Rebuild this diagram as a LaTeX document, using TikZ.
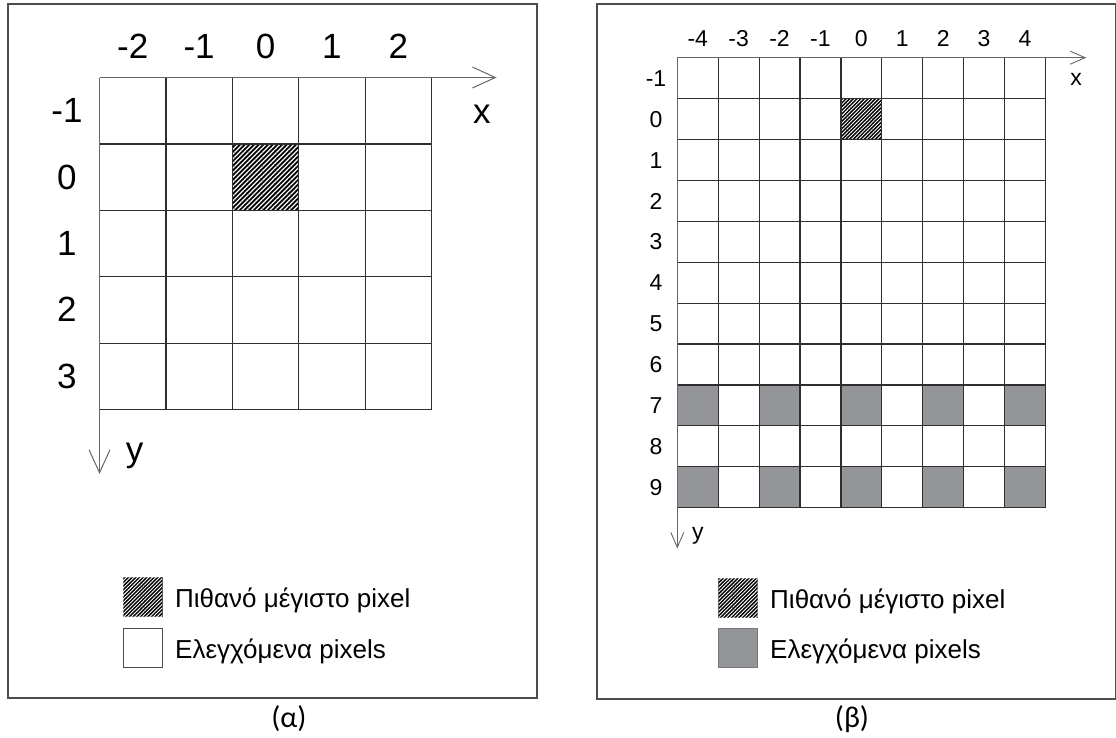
\documentclass[tikz,border=0pt]{standalone}
\usepackage{fontspec}
\setmainfont{Liberation Sans}
\newfontfamily\capfont{Carlito}
\usetikzlibrary{arrows.meta,patterns.meta}
\definecolor{gridline}{HTML}{2E2E2E}
\definecolor{axisgray}{HTML}{666666}
\definecolor{framegray}{HTML}{4D4D4D}
\definecolor{checkgray}{HTML}{939598}

\begin{document}
\begin{tikzpicture}[x=1pt, y=-1pt,
    frame/.style={draw=framegray, line width=1.3pt},
    cell/.style={draw=gridline, line width=1.2pt},
    hatchbig/.style={fill=black, postaction={pattern={Lines[angle=45,distance=3.3pt,line width=1.2pt]}, pattern color=white}},
    hatchsmall/.style={fill=black, postaction={pattern={Lines[angle=45,distance=2.6pt,line width=0.9pt]}, pattern color=white}},
    checked/.style={fill=checkgray},
    swatch/.style={rectangle, minimum width=39pt, minimum height=39pt, inner sep=0pt, draw=framegray, line width=0.9pt},
    bignum/.style={inner sep=0pt, anchor=base, font=\fontsize{35}{35}\selectfont},
    smallnum/.style={inner sep=0pt, anchor=base, font=\fontsize{23}{23}\selectfont},
    keytext/.style={inner sep=0pt, anchor=base west, font=\fontsize{26}{26}\selectfont},
    caption/.style={inner sep=0pt, font=\capfont\fontsize{30}{30}\selectfont}
  ]
    \useasboundingbox (0,0) rectangle (1116,737);

    % panel (a)
    \draw[frame] (8,4) rectangle (537,698);
    \begin{scope}[shift={(99.5,77.5)}, x=66.4pt, y=-66.4pt]
      \fill[hatchbig] (2,1) rectangle (3,2);
      \foreach \i in {0,...,5}
        \draw[cell] (\i,0) -- (\i,5);
      \foreach \j in {0,...,5}
        \draw[cell] (0,\j) -- (5,\j);
      \coordinate (oa) at (0,0);
      \coordinate (xa) at (5.98,0);
      \coordinate (ya) at (0,5.97);
      \draw[axisgray, line width=1pt, -{Straight Barb[length=23pt,width=21pt]}] (oa) -- (xa);
      \draw[axisgray, line width=1pt, -{Straight Barb[length=23pt,width=21pt]}] (oa) -- (ya);
      \foreach \v [count=\i from 0] in {-2,-1,0,1,2}
        \node[bignum] (colA\i) at (\i+0.5,-0.28) {\v};
      \foreach \v [count=\j from 0] in {-1,0,1,2,3}
        \node[bignum] (rowA\j) at (-0.49,\j+0.68) {\v};
      \node[bignum] (xlabA) at (5.76,0.7) {x};
      \node[bignum] (ylabA) at (0.53,5.78) {y};
    \end{scope}
    \node[swatch, hatchsmall] (keyA1) at (142.5,597) {};
    \node[swatch, fill=white] (keyA2) at (142.5,647.5) {};
    \node[keytext] (txtA1) at (175,607) {Πιθανό μέγιστο pixel};
    \node[keytext] (txtA2) at (175,658) {Ελεγχόμενα pixels};
    \node[caption] (capA) at (289,719) {(α)};

    % panel (b)
    \draw[frame] (597,4) rectangle (1115.4,699);
    \begin{scope}[shift={(677.3,57.7)}, x=40.9pt, y=-40.9pt]
      \fill[hatchsmall] (4,1) rectangle (5,2);
      \foreach \r in {8,10}
        \foreach \c in {0,2,4,6,8}
          \fill[checked] (\c,\r) rectangle (\c+1,\r+1);
      \foreach \i in {0,...,9}
        \draw[cell] (\i,0) -- (\i,11);
      \foreach \j in {0,...,11}
        \draw[cell] (0,\j) -- (9,\j);
      \coordinate (ob) at (0,0);
      \coordinate (xb) at (10,0);
      \coordinate (yb) at (0,12);
      \draw[axisgray, line width=0.9pt, -{Straight Barb[length=15pt,width=13pt]}] (ob) -- (xb);
      \draw[axisgray, line width=0.9pt, -{Straight Barb[length=15pt,width=13pt]}] (ob) -- (yb);
      \foreach \v [count=\i from 0] in {-4,-3,-2,-1,0,1,2,3,4}
        \node[smallnum] (colB\i) at (\i+0.5,-0.27) {\v};
      \foreach \v [count=\j from 0] in {-1,0,1,2,3,4,5,6,7,8,9}
        \node[smallnum] (rowB\j) at (-0.52,\j+0.7) {\v};
      \node[smallnum] (xlabB) at (9.75,0.69) {x};
      \node[smallnum] (ylabB) at (0.5,11.78) {y};
    \end{scope}
    \node[swatch, hatchsmall] (keyB1) at (738,597.5) {};
    \node[swatch, checked, draw=checkgray!80!black] (keyB2) at (738,648) {};
    \node[keytext] (txtB1) at (770,608.5) {Πιθανό μέγιστο pixel};
    \node[keytext] (txtB2) at (770,658.5) {Ελεγχόμενα pixels};
    \node[caption] (capB) at (852,719) {(β)};
  \end{tikzpicture}
\end{document}
